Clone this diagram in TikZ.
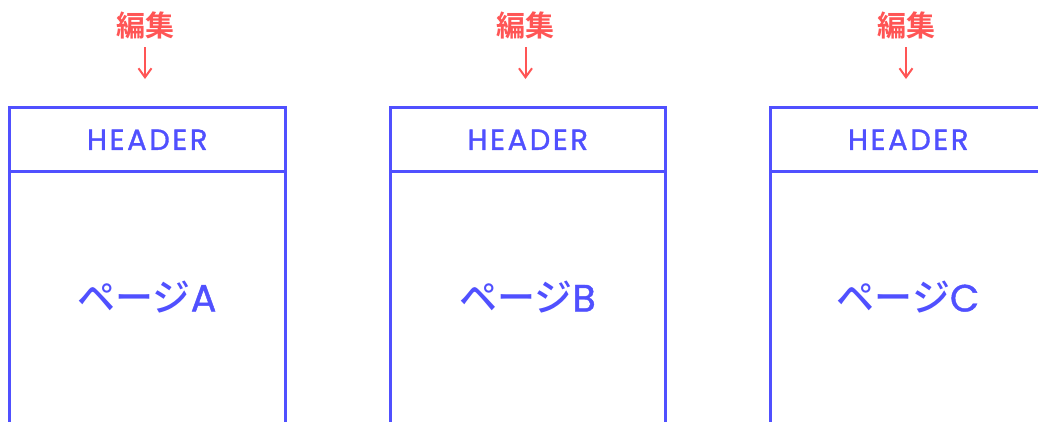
\documentclass[tikz,border=0pt]{standalone}
\usepackage{fontspec}
\usetikzlibrary{positioning,arrows.meta}
\newfontfamily\cjk{Noto Sans CJK JP Medium}
\newfontfamily\cjkbold{Noto Sans CJK JP Bold}
\newfontfamily\latin[FakeBold=1.2]{Poppins}
\newfontfamily\hdrfont[LetterSpace=9, FakeBold=1.2]{Poppins}
\definecolor{pageblue}{RGB}{80,80,255}
\definecolor{editred}{RGB}{255,85,85}
\tikzset{
  headbox/.style={draw=pageblue, line width=3pt, minimum width=275.5pt, minimum height=64pt, inner sep=0pt, outer sep=0pt, text=pageblue, font=\hdrfont\fontsize{29}{29}\selectfont},
  bodybox/.style={draw=pageblue, line width=3pt, minimum width=275.5pt, minimum height=320pt, inner sep=0pt, outer sep=0pt},
  pagetext/.style={text=pageblue, inner sep=0pt, font=\cjk\fontsize{38}{38}\selectfont},
  edittext/.style={text=editred, inner sep=0pt, font=\cjkbold\fontsize{29}{29}\selectfont},
  editarrow/.style={draw=editred, line width=2pt, -{Straight Barb[length=9pt, width=13pt, line width=2pt]}}
}
\begin{document}
\begin{tikzpicture}[x=1pt, y=-1pt, line join=miter]
	\useasboundingbox (0,0) rectangle (1038,421);
	\clip (0,0) rectangle (1038,421);
	\foreach \p/\x in {A/0, B/380.5, C/761}{
		\node[headbox] (head\p) at (147.25+\x,139.7) {HEADER};
		\node[bodybox, below=0pt of head\p] (body\p) {};
		\node[pagetext] (page\p) at (147+\x,297) {ページ{\latin\p}};
		\node[edittext] (edit\p) at (145+\x,25) {編集};
		\coordinate (top\p) at (145+\x,47);
		\coordinate (tip\p) at (145+\x,79);
		\draw[editarrow] (top\p)--(tip\p);
	}
\end{tikzpicture}
\end{document}
